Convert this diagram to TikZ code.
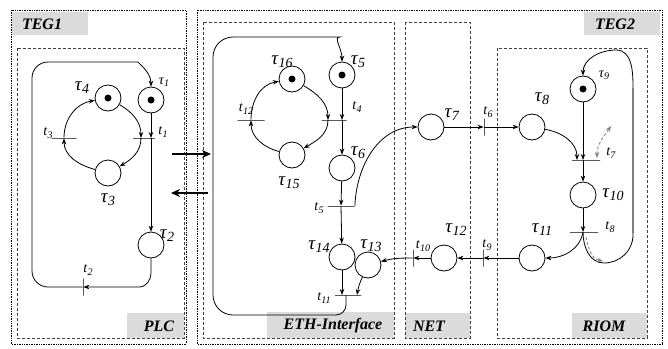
\documentclass[tikz,border=0pt]{standalone}
\usepackage{fontspec}
\setmainfont{Liberation Serif}
\usetikzlibrary{arrows.meta, positioning}

\newcommand{\tauL}[1]{{\fontsize{19}{19}\selectfont\textit{τ}\raisebox{-0.35ex}{\fontsize{14}{14}\selectfont\textit{#1}}}}
\newcommand{\tauS}[1]{{\fontsize{14}{14}\selectfont\textit{τ}\raisebox{-0.35ex}{\fontsize{10}{10}\selectfont\textit{#1}}}}
\newcommand{\trn}[1]{{\fontsize{14}{14}\selectfont\textit{t}\raisebox{-0.35ex}{\fontsize{10}{10}\selectfont\textit{#1}}}}

\begin{document}
\begin{tikzpicture}[
    x=1pt, y=-1pt,
    >={Stealth[length=6pt,width=4.5pt]},
    line width=0.8pt,
    place/.style={
        draw,
        circle,
        minimum size=26pt,
        inner sep=0pt,
        fill=white
    },
    token/.style={
        place,
        label={[circle, fill, inner sep=0pt, minimum size=7pt]center:}
    },
    hbar/.style={draw, minimum width=#1, minimum height=0pt, inner sep=0pt},
    vbar/.style={draw, minimum height=#1, minimum width=0pt, inner sep=0pt},
    outer/.style={densely dotted, line width=0.7pt},
    part/.style={dashed, dash pattern=on 3pt off 2pt, draw=black!75, line width=0.7pt},
    tag/.style={fill=black!14},
    tagtext/.style={font=\fontsize{16}{16}\selectfont\bfseries\itshape, inner sep=0pt},
    hint/.style={gray, dashed, dash pattern=on 3pt off 2pt, line width=0.8pt}
]
\useasboundingbox (0,0) rectangle (668,348);

% grey tags
\fill[tag] (12,12) rectangle (88,35);
\fill[tag] (584,12) rectangle (660,35);
\fill[tag] (127,313) rectangle (184,338);
\fill[tag] (267,312) rectangle (394,338);
\fill[tag] (405,313) rectangle (470,338);
\fill[tag] (572,313) rectangle (647,338);
\node[tagtext] (teg1) at (42,24) {TEG1};
\node[tagtext] (teg2) at (615,24) {TEG2};
\node[tagtext] (plc) at (159,326) {PLC};
\node[tagtext] (eth) at (333,326) {ETH-Interface};
\node[tagtext] (net) at (429,326) {NET};
\node[tagtext] (riom) at (604,326) {RIOM};

% TEG boxes and parts
\draw[outer] (11,10) rectangle (186,344);
\draw[outer] (197,10) rectangle (662,344);
\draw[part] (17,48) rectangle (184,338);
\draw[part] (203,22) rectangle (394,338);
\draw[part] (405,22) rectangle (470,338);
\draw[part] (497,48) rectangle (647,338);

% PLC
\node[token] (p1) at (151,100) {};
\node[place] (p2) at (151,245) {};
\node[place] (p3) at (108,173) {};
\node[token] (p4) at (108,98) {};
\node[hbar=22pt] (t1) at (144,138) {};
\node[hbar=25pt] (t3) at (64,138) {};
\node[vbar=17pt] (t2) at (83,287) {};

\node (lp1) at (164,82) {\tauS{1}};
\node (lp2) at (167,236) {\tauL{2}};
\node (lp3) at (108,200) {\tauL{3}};
\node (lp4) at (82,88) {\tauL{4}};
\node (lt1) at (163,132) {\trn{1}};
\node (lt2) at (88,270) {\trn{2}};
\node (lt3) at (48,133) {\trn{3}};

% ETH-Interface
\node[token] (p5) at (342,75) {};
\node[token] (p16) at (292,79) {};
\node[place] (p15) at (292,155) {};
\node[place] (p6) at (342,168) {};
\node[place] (p14) at (342,257) {};
\node[place] (p13) at (368,265) {};
\node[hbar=27pt] (t12) at (251,120) {};
\node[hbar=25pt] (t4) at (334,120) {};
\node[hbar=27pt] (t5) at (341,206) {};
\node[hbar=26pt] (t11) at (348,295) {};

\node (lp5) at (358,62) {\tauL{5}};
\node (lp6) at (358,153) {\tauL{6}};
\node (lp13) at (371,246) {\tauL{13}};
\node (lp14) at (319,247) {\tauL{14}};
\node (lp15) at (289,183) {\tauL{15}};
\node (lp16) at (282,62) {\tauL{16}};
\node (lt4) at (357,107) {\trn{4}};
\node (lt5) at (319,208) {\trn{5}};
\node (lt11) at (324,298) {\trn{11}};
\node (lt12) at (246,109) {\trn{12}};

% NET and RIOM
\node[place] (p7) at (431,127) {};
\node[place] (p8) at (532,127) {};
\node[token] (p9) at (583,89) {};
\node[place] (p10) at (583,195) {};
\node[place] (p11) at (532,258) {};
\node[place] (p12) at (444,258) {};
\node[vbar=17pt] (t6) at (484,127) {};
\node[hbar=28pt] (t7) at (586,160) {};
\node[hbar=28pt] (t8) at (584,232) {};
\node[vbar=17pt] (t9) at (483,258) {};
\node[vbar=17pt] (t10) at (413,258) {};

\node (lp7) at (452,115) {\tauL{7}};
\node (lp8) at (542,99) {\tauL{8}};
\node (lp9) at (604,75) {\tauS{9}};
\node (lp10) at (613,195) {\tauL{10}};
\node (lp11) at (542,230) {\tauL{11}};
\node (lp12) at (456,230) {\tauL{12}};
\node (lt6) at (488,112) {\trn{6}};
\node (lt7) at (611,153) {\trn{7}};
\node (lt8) at (610,227) {\trn{8}};
\node (lt9) at (487,245) {\trn{9}};
\node (lt10) at (423,246) {\trn{10}};

% links between TEG1 and TEG2
\coordinate (toA) at (172,154);
\coordinate (toB) at (211,154);
\coordinate (backA) at (208,193);
\coordinate (backB) at (171,193);
\draw[-{Stealth[length=9pt,width=8pt]}, line width=2.6pt] (toA) -- (toB);
\draw[-{Stealth[length=9pt,width=8pt]}, line width=2.6pt] (backA) -- (backB);

% arcs
\path[->]
(p1) edge ([xshift=7pt]t1.center)
([xshift=7pt]t1.center) edge (p2)
(p4) edge[out=-30, in=90] ([xshift=-3pt]t1.center)
([xshift=-3pt]t1.center) edge[out=-90, in=30] (p3)
(p3) edge[out=165, in=-90] (t3)
(t3) edge[out=90, in=190] (p4)
(p5) edge ([xshift=8pt]t4.center)
([xshift=8pt]t4.center) edge (p6)
(p16) edge[out=-30, in=90] ([xshift=-6pt]t4.center)
([xshift=-6pt]t4.center) edge[out=-90, in=30] (p15)
(p15) edge[out=165, in=-90] (t12)
(t12) edge[out=90, in=190] (p16)
(p6) edge (t5)
(t5) edge (p14)
(t5.east) edge[out=88, in=180] (p7)
(p14) edge ([xshift=-6pt]t11.center)
(p13) edge[out=-115, in=80] ([xshift=9pt]t11.center)
(t10) edge[out=180, in=15] (p13)
(p7) edge (t6)
(t6) edge (p8)
(p8) edge[out=-10, in=90] ([xshift=-9pt]t7.center)
(p9) edge ([xshift=-3pt]t7.center)
([xshift=-3pt]t7.center) edge (p10)
(p10) edge ([xshift=-1pt]t8.center)
([xshift=-1pt]t8.center) edge[out=-100, in=0] (p11)
(p11) edge (t9)
(t9) edge (p12)
(p12) edge (t10);

% loops
\draw[->] (p2) -- (151,273) to[out=-90, in=0] (139,287) -- (t2);
\draw[->, rounded corners=16pt] (t2) -- (32,287) -- (32,62) -- (122,62) [sharp corners] to[out=0, in=90] (p1);
\draw[->] ([xshift=-2pt]t11.center) -- (346,305) to[out=-90, in=0] (336,315) [rounded corners=20pt] -- (213,315) -- (213,37) -- (320,37) [sharp corners] to[out=0, in=90] (p5);
\draw[->] ([xshift=-1pt]t8.center) to[out=-90, in=180] (604,263) to[out=0, in=-90] (633,235) -- (633,88) to[out=90, in=0] (616,50) to[out=180, in=90] (p9);
\draw[gray, line width=1.6pt] (633,233) -- (633,88);

% hints
\coordinate (h1a) at (597,158);
\coordinate (h1b) at (611,126);
\coordinate (h2a) at (586,237);
\coordinate (h2b) at (603,261);
\draw[hint, <->] (h1a) to[out=90, in=-125] (h1b);
\draw[hint, ->] (h2a) to[out=-80, in=170] (h2b);

\end{tikzpicture}
\end{document}
